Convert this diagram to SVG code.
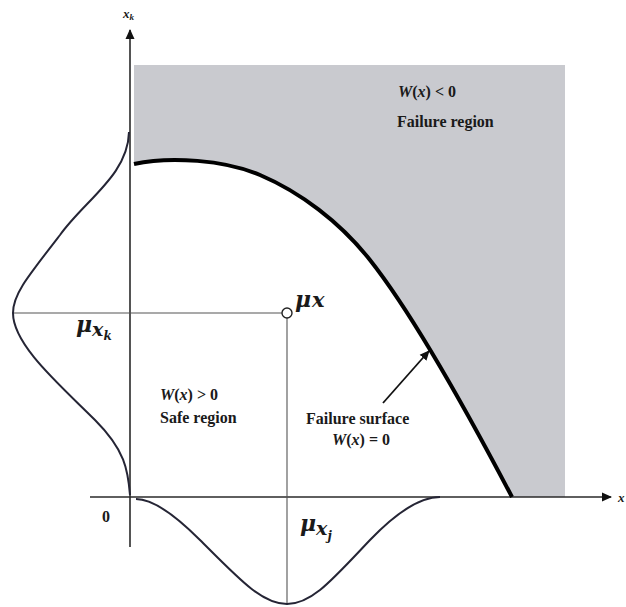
<svg xmlns="http://www.w3.org/2000/svg" width="626" height="607" viewBox="0 0 626 607">
<style>
.lbl{font-family:"Liberation Serif","Times New Roman",serif;font-size:16px;font-weight:bold;fill:#1a1a1a}
.mu{font-family:"DejaVu Serif","Liberation Serif",serif;font-weight:bold;font-style:italic;fill:#1a1a1a}
.ax{font-family:"Liberation Serif","Times New Roman",serif;font-weight:bold;font-style:italic;fill:#1a1a1a}
.axis{stroke:#2a2a2a;stroke-width:1.6;fill:none}
.thin{stroke:#555;stroke-width:1.1;fill:none}
.pdf{stroke:#252535;stroke-width:2;fill:none}
</style>
<defs>
<marker id="ah" markerWidth="10" markerHeight="10" refX="9" refY="5" orient="auto" markerUnits="userSpaceOnUse">
<path d="M0,0.5 L10,5 L0,9.5 Z" fill="#111"/>
</marker>
</defs>
<rect width="626" height="607" fill="#fff"/>
<g id="failure-region">
<path d="M134,65 H565 V497 H512 C440,360 400,298 370,260 C340,222 300,192 260,175 C225,160 170,156 134,164 Z" fill="#c9cacf"/>
</g>
<g id="connectors">
<line class="axis" x1="130" y1="547" x2="130" y2="30" marker-end="url(#ah)"/>
<line class="axis" x1="90" y1="497" x2="611" y2="497" marker-end="url(#ah)"/>
<line class="thin" x1="13" y1="313" x2="282" y2="313"/>
<line class="thin" x1="287" y1="318" x2="287" y2="605"/>
<line x1="383" y1="403" x2="429" y2="351" stroke="#111" stroke-width="1.8" marker-end="url(#ah)"/>
</g>
<g id="failure-surface">
<path d="M134,164 C170,156 225,160 260,175 C300,192 340,222 370,260 C400,298 440,360 512,497" fill="none" stroke="#000" stroke-width="4"/>
</g>
<g id="pdf-k">
<path class="pdf" d="M129,132 C128,175 85,200 60,235 C25,280 13,295 13,313 C13,345 60,385 95,420 C125,450 128,470 130,495"/>
</g>
<g id="pdf-j">
<path class="pdf" d="M136,499 C152,499 175,515 200,540 C240,580 262,604 287,604 C312,604 332,580 370,540 C395,514 420,497 440,497"/>
</g>
<g id="mean-point">
<circle cx="287" cy="313" r="5" fill="none" stroke="#222" stroke-width="1.4"/>
</g>
<g id="labels">
<text class="mu" x="295" y="307" font-size="22">μ<tspan font-size="21" dx="1">x</tspan></text>
<text class="mu" x="76" y="332" font-size="22">μ<tspan font-size="19" dy="4">x</tspan><tspan font-size="12" dy="4">k</tspan></text>
<text class="mu" x="300" y="531" font-size="22">μ<tspan font-size="19" dy="4">x</tspan><tspan font-size="12" dy="5">j</tspan></text>
<text class="lbl" x="102" y="522">0</text>
<text class="ax" x="123" y="18" font-size="13">x<tspan font-size="9" dy="2">k</tspan></text>
<text class="ax" x="618" y="502" font-size="13">x</text>
<text class="lbl" x="398" y="97" font-style="italic">W<tspan font-style="normal">(</tspan>x<tspan font-style="normal">) &lt; 0</tspan></text>
<text class="lbl" x="397" y="127">Failure region</text>
<text class="lbl" x="160" y="400" font-style="italic">W<tspan font-style="normal">(</tspan>x<tspan font-style="normal">) &gt; 0</tspan></text>
<text class="lbl" x="160" y="423">Safe region</text>
<text class="lbl" x="306" y="424">Failure surface</text>
<text class="lbl" x="332" y="445" font-style="italic">W<tspan font-style="normal">(</tspan>x<tspan font-style="normal">) = 0</tspan></text>
</g>
</svg>
